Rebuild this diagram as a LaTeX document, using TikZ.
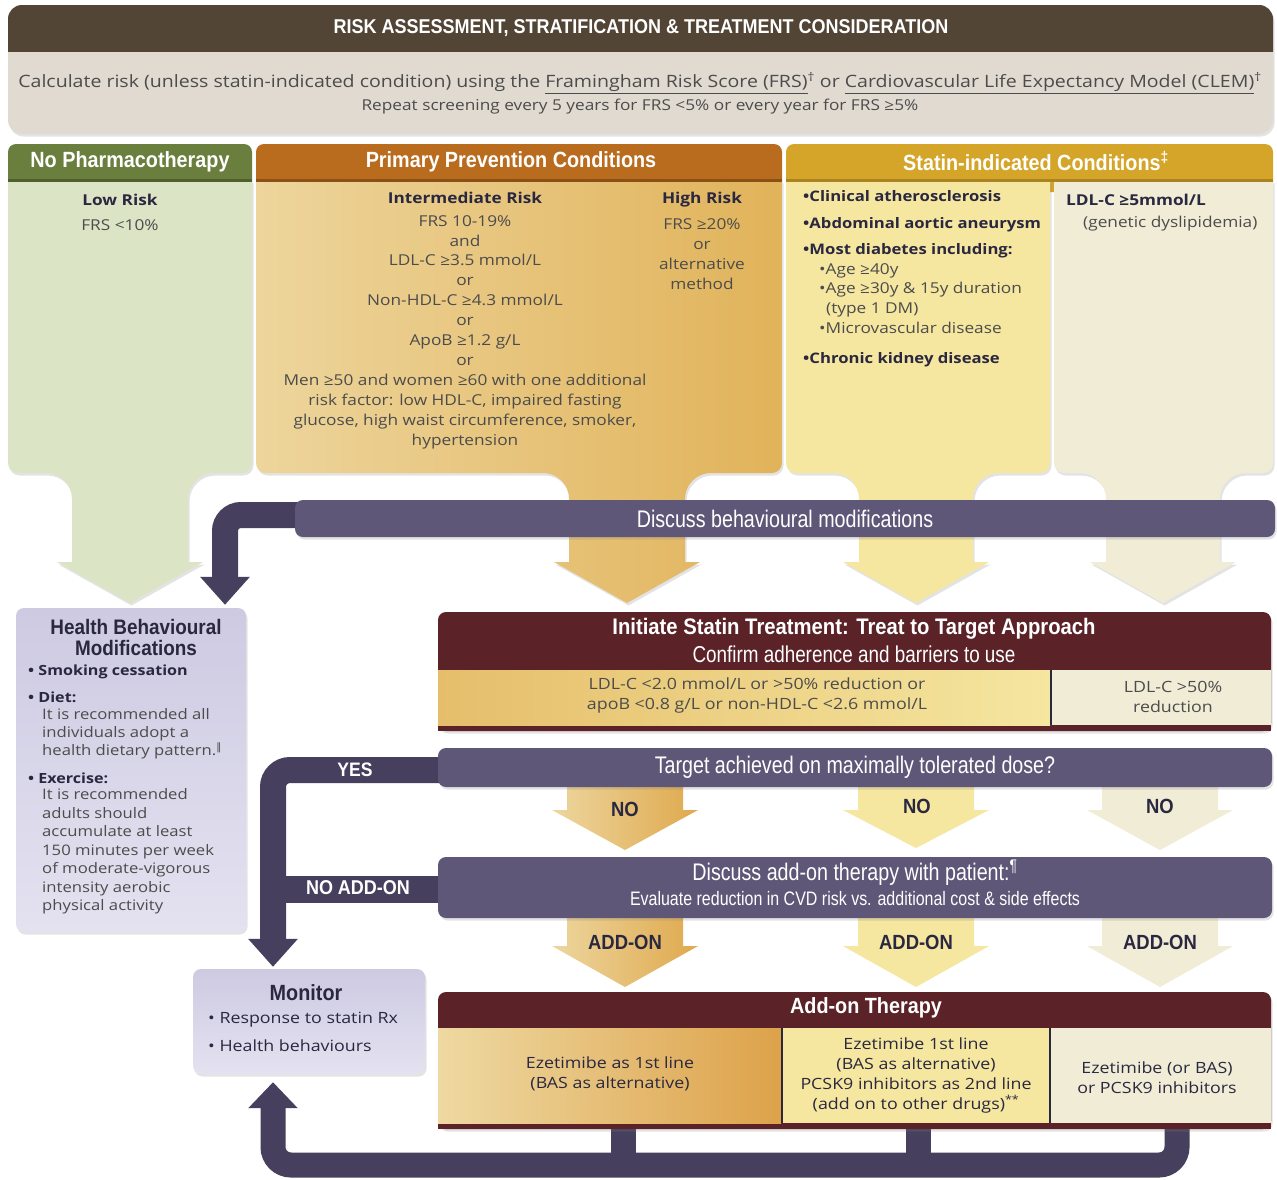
\documentclass[tikz,border=0pt]{standalone}
\usepackage{fontspec}
\setmainfont{Open Sans}[FakeStretch=1.15]
\newfontfamily\condB{Liberation Sans}[FakeStretch=0.9]
\newfontfamily\condR{Liberation Sans}[FakeStretch=0.82]
\newfontfamily\dejavu{DejaVu Sans}
\usetikzlibrary{shadows,arrows.meta}
\pgfdeclarelayer{background}
\pgfsetlayers{background,main}
\definecolor{brownbar}{HTML}{524535}
\definecolor{panel}{HTML}{E0DAD0}
\definecolor{greenH}{HTML}{6A7E3D}
\definecolor{greenB}{HTML}{DCE4C6}
\definecolor{orangeH}{HTML}{B96B1E}
\definecolor{orangeL}{HTML}{EDD59C}
\definecolor{orangeR}{HTML}{E1B35A}
\definecolor{goldH}{HTML}{D5A52A}
\definecolor{yellowB}{HTML}{F5E6A0}
\definecolor{creamB}{HTML}{F1ECD6}
\definecolor{barP}{HTML}{5E5778}
\definecolor{connP}{HTML}{463F5E}
\definecolor{maroon}{HTML}{5B2228}
\definecolor{lavT}{HTML}{CDCAE2}
\definecolor{lavB}{HTML}{E4E2F0}
\definecolor{navy}{HTML}{2A2840}
\definecolor{txt}{HTML}{4C4C4C}
\definecolor{noL}{HTML}{EDD69E}
\definecolor{noR}{HTML}{DFA94E}
\definecolor{cellL}{HTML}{E5BE6B}
\definecolor{aoL}{HTML}{EED9A2}
\definecolor{aoR}{HTML}{DDA24A}
% column body with arrow: #1 style, #2 L, #3 R, #4 top, #5 bottom, #6 cx, #7 shaft half, #8 head half, #9 head top
\newcommand\colshape[9]{%
\path[#1] (#2,#4) -- (#2,#5-10) .. controls (#2,#5-4.5) and (#2+4.5,#5) .. (#2+10,#5)
 -- (#6-#7-26,#5) .. controls (#6-#7-11.6,#5) and (#6-#7,#5+11.6) .. (#6-#7,#5+26)
 -- (#6-#7,#9) -- (#6-#8,#9) -- (#6,#9+41) -- (#6+#8,#9) -- (#6+#7,#9)
 -- (#6+#7,#5+26) .. controls (#6+#7,#5+11.6) and (#6+#7+11.6,#5) .. (#6+#7+26,#5)
 -- (#3-10,#5) .. controls (#3-4.5,#5) and (#3,#5-4.5) .. (#3,#5-10) -- (#3,#4) -- cycle;}
% simple down arrow: #1 style, #2 cx, #3 top, #4 head top, #5 tip
\newcommand\darrow[5]{%
\path[#1] (#2-58,#3) -- (#2+58,#3) -- (#2+58,#4) -- (#2+73,#4) -- (#2,#5) -- (#2-73,#4) -- (#2-58,#4) -- cycle;}
\begin{document}
\begin{tikzpicture}[x=1pt,y=-1pt,
  every node/.style={inner sep=0pt},
  txtbody/.style={font=\fontsize{15}{19.9}\selectfont, text=txt, align=center},
  txtbold/.style={font=\fontsize{15}{20}\selectfont\bfseries, text=navy},
  hdrtext/.style={font=\condB\bfseries\fontsize{22}{24}\selectfont, text=white},
  bartext/.style={font=\condR\fontsize{24}{26}\selectfont, text=white},
  arrtext/.style={font=\condB\bfseries\fontsize{20.5}{22}\selectfont, text=navy},
  conn/.style={draw=connP, line width=26pt},
  conntip/.style={-{Triangle[width=48pt,length=28pt]}},
  softshadow/.style={drop shadow={shadow xshift=1.5pt,shadow yshift=-2.5pt,opacity=0.22}},
  lavbox/.style={rounded corners=8pt, top color=lavT, bottom color=lavB, softshadow},
  barbox/.style={fill=barP, rounded corners=8pt, softshadow},
  maroonbox/.style={fill=maroon, rounded corners=8pt, softshadow}]
\begin{pgfonlayer}{background}
\fill[white] (0,0) rectangle (1277,1179);
\end{pgfonlayer}
\useasboundingbox (0,0) rectangle (1277,1179);

% ---------- top panel
\fill[panel, rounded corners=14pt, softshadow] (8,5) rectangle (1273,134);
\fill[brownbar, rounded corners=14pt] (8,5) rectangle (1273,66);
\fill[panel] (8,52) rectangle (1273,70);
\node[hdrtext, font=\condB\bfseries\fontsize{20}{22}\selectfont] (title) at (641,28) {RISK ASSESSMENT, STRATIFICATION \& TREATMENT CONSIDERATION};
\node[txtbody, font=\fontsize{17}{20}\selectfont] (calc) at (640,83) {Calculate risk (unless statin-indicated condition) using the \underline{Framingham Risk Score (FRS)}\textsuperscript{†} or \underline{Cardiovascular Life Expectancy Model (CLEM)}\textsuperscript{†}};
\node[txtbody] (repeat) at (640,107) {Repeat screening every 5 years for FRS <5\% or every year for FRS ≥5\%};

% ---------- columns
\fill[greenH, rounded corners=8pt] (8,144) rectangle (252,192);
\fill[orangeH, rounded corners=8pt] (256,144) rectangle (782,192);
\fill[goldH, rounded corners=8pt] (786,144) rectangle (1273,192);
\colshape{fill=greenB, softshadow}{8}{252}{181}{473}{130}{58}{73}{562}
\colshape{left color=orangeL, right color=orangeR, softshadow}{256}{782}{181}{473}{627}{58}{73}{562}
\colshape{fill=yellowB, softshadow}{786}{1050}{181}{473}{916}{57}{73}{562}
\colshape{fill=creamB, softshadow}{1054}{1273}{181}{473}{1163}{57}{73}{562}
\fill[greenH!75!black] (8,179) rectangle (252,182);
\fill[orangeH!75!black] (256,179) rectangle (782,182);
\fill[goldH!80!black] (786,179) rectangle (1273,182);
\node[hdrtext] (hnp) at (130,162) {No Pharmacotherapy};
\node[hdrtext] (hpp) at (511,162) {Primary Prevention Conditions};
\node[hdrtext] (hsi) at (1036,161) {Statin-indicated Conditions\textsuperscript{‡}};

\node[txtbold] (lowrisk) at (120,200) {Low Risk};
\node[txtbody] (lowfrs) at (120,225) {FRS <10\%};

\node[txtbold] (intrisk) at (465,198) {Intermediate Risk};
\node[txtbody] (intblock) at (465,332) {FRS 10-19\%\\and\\LDL-C ≥3.5 mmol/L\\or\\Non-HDL-C ≥4.3 mmol/L\\or\\ApoB ≥1.2 g/L\\or\\Men ≥50 and women ≥60 with one additional\\risk factor: low HDL-C, impaired fasting\\glucose, high waist circumference, smoker,\\hypertension};
\node[txtbold] (highrisk) at (702,200) {High Risk};
\node[txtbody] (highblock) at (702,254) {FRS ≥20\%\\or\\alternative\\method};

\node[txtbold, align=left, anchor=west, font=\fontsize{14.5}{26.5}\selectfont\bfseries] (sib1) at (803,224.5) {•Clinical atherosclerosis\\•Abdominal aortic aneurysm\\•Most diabetes including:};
\node[txtbody, align=left, anchor=west] (sib2) at (819,298.5) {•Age ≥40y\\•Age ≥30y \& 15y duration\\\hspace*{7pt}(type 1 DM)\\•Microvascular disease};
\node[txtbold, anchor=west, font=\fontsize{14.5}{20}\selectfont\bfseries] (sib3) at (803,360) {•Chronic kidney disease};
\node[txtbold, anchor=west] (ldl5) at (1066,200) {LDL-C ≥5mmol/L};
\node[txtbody, anchor=west] (gen) at (1083,224) {(genetic dyslipidemia)};

% ---------- discuss behavioural bar
\node[barbox, bartext, minimum width=980pt, minimum height=37pt] (dbm) at (785,518.5) {Discuss behavioural modifications};

% ---------- health behavioural box
\node[lavbox, minimum width=230pt, minimum height=324pt] (hbm) at (131,770) {};
\node[font=\condB\bfseries\fontsize{21}{21}\selectfont, text=navy, align=center] (hbmt) at (136,637) {Health Behavioural\\Modifications};
\node[txtbold, anchor=west, font=\fontsize{14}{18}\selectfont\bfseries] (smk) at (28,672) {• Smoking cessation};
\node[txtbold, anchor=west, font=\fontsize{14}{18}\selectfont\bfseries] (diet) at (28,697) {• Diet:};
\node[txtbody, align=left, anchor=west, font=\fontsize{14.5}{18}\selectfont] (dietb) at (42,734) {It is recommended all\\individuals adopt a\\health dietary pattern.\textsuperscript{\dejavu ‖}};
\node[txtbold, anchor=west, font=\fontsize{14}{18}\selectfont\bfseries] (exer) at (28,778) {• Exercise:};
\node[txtbody, align=left, anchor=west, font=\fontsize{14.5}{18.5}\selectfont] (exerb) at (42,851.5) {It is recommended\\adults should\\accumulate at least\\150 minutes per week\\of moderate-vigorous\\intensity aerobic\\physical activity};

% ---------- initiate statin box
\node[maroonbox, minimum width=833pt, minimum height=119pt] (ist) at (854.5,671.5) {};
\fill[maroon] (438,700) rectangle (1271,731);
\fill[left color=cellL, right color=yellowB] (438,670) rectangle (1050,725);
\fill[creamB] (1052,670) rectangle (1271,725);
\draw[navy, line width=2pt] (1051,670) -- (1051,725);
\node[hdrtext, font=\condB\bfseries\fontsize{22.5}{24}\selectfont] (istt) at (854,629) {Initiate Statin Treatment: Treat to Target Approach};
\node[bartext, font=\condR\fontsize{23}{24}\selectfont] (ists) at (854,654) {Confirm adherence and barriers to use};
\node[txtbody, font=\fontsize{15.5}{20}\selectfont] (istc1) at (757,695) {LDL-C <2.0 mmol/L or >50\% reduction or\\apoB <0.8 g/L or non-HDL-C <2.6 mmol/L};
\node[txtbody, font=\fontsize{15.5}{20}\selectfont] (istc2) at (1173,697) {LDL-C >50\%\\reduction};

% ---------- NO arrows
\darrow{left color=noL, right color=noR}{625}{780}{810}{850}
\darrow{fill=yellowB}{916}{780}{810}{848}
\darrow{fill=creamB}{1160}{780}{810}{850}
% ---------- ADD-ON arrows
\darrow{left color=noL, right color=noR}{625}{910}{946}{987}
\darrow{fill=yellowB}{916}{910}{946}{987}
\darrow{fill=creamB}{1160}{910}{946}{987}

% ---------- target bar
\node[barbox, bartext, minimum width=834pt, minimum height=39pt] (tgt) at (855,767.5) {Target achieved on maximally tolerated dose?};
\node[arrtext] (no1) at (625,809) {NO};
\node[arrtext] (no2) at (917,806) {NO};
\node[arrtext] (no3) at (1160,806) {NO};

% ---------- discuss add-on bar
\node[barbox, minimum width=834pt, minimum height=61pt] (dao) at (855,887.5) {};
\node[bartext] (daot) at (855,873) {Discuss add-on therapy with patient:\textsuperscript{¶}};
\node[bartext, font=\condR\fontsize{19.5}{21}\selectfont] (daos) at (855,899) {Evaluate reduction in CVD risk vs. additional cost \& side effects};
\node[arrtext] (ad1) at (625,942) {ADD-ON};
\node[arrtext] (ad2) at (916,942) {ADD-ON};
\node[arrtext] (ad3) at (1160,942) {ADD-ON};

% ---------- monitor box
\node[lavbox, minimum width=232pt, minimum height=105pt] (mon) at (309,1021.5) {};
\node[font=\condB\bfseries\fontsize{22}{22}\selectfont, text=navy] (mont) at (306,993) {Monitor};
\node[anchor=west, font=\fontsize{15.5}{18}\selectfont, text=navy] (mon1) at (208,1020) {• Response to statin Rx};
\node[anchor=west, font=\fontsize{15.5}{18}\selectfont, text=navy] (mon2) at (208,1046) {• Health behaviours};

% ---------- add-on therapy box
\node[maroonbox, minimum width=833pt, minimum height=137pt] (ao) at (854.5,1060.5) {};
\fill[maroon] (438,1080) rectangle (1271,1129);
\fill[left color=aoL, right color=aoR] (438,1028) rectangle (781,1123);
\fill[yellowB] (783,1028) rectangle (1049,1123);
\fill[creamB] (1051,1028) rectangle (1271,1123);
\draw[navy, line width=2pt] (782,1028) -- (782,1123);
\draw[navy, line width=2pt] (1050,1028) -- (1050,1123);
\node[hdrtext] (aot) at (866,1008) {Add-on Therapy};
\node[txtbody, text=navy, font=\fontsize{15.5}{20}\selectfont] (aoc1) at (610,1074) {Ezetimibe as 1st line\\(BAS as alternative)};
\node[txtbody, text=navy, font=\fontsize{15.5}{20}\selectfont] (aoc2) at (916,1075) {Ezetimibe 1st line\\(BAS as alternative)\\PCSK9 inhibitors as 2nd line\\(add on to other drugs)\textsuperscript{**}};
\node[txtbody, text=navy, font=\fontsize{15.5}{20}\selectfont] (aoc3) at (1157,1078) {Ezetimibe (or BAS)\\or PCSK9 inhibitors};

% ---------- connectors
\coordinate (c1) at (225,0);
\coordinate (c2) at (273,0);
\coordinate (c3) at (1177,0);
\coordinate (s1) at (623,0);
\coordinate (s2) at (918,0);
\coordinate (cbot) at (273,1165);
\coordinate (dbmW) at ([xshift=10pt,yshift=3.5pt]dbm.west);
\coordinate (hbmN) at ([yshift=3pt]hbm.north);
\coordinate (tgtW) at ([xshift=10pt,yshift=-2.5pt]tgt.west);
\coordinate (monN) at ([yshift=2pt]mon.north);
\coordinate (daoW) at ([xshift=10pt,yshift=-2pt]dao.west);
\coordinate (aoB) at ([yshift=5pt]ao.south);
\coordinate (monS) at ([yshift=-8pt]mon.south);
\begin{pgfonlayer}{background}
\draw[conn, conntip, rounded corners=16pt] (dbmW) -| (hbmN -| c1);
\draw[conn, conntip, rounded corners=17pt] (tgtW) -| (monN -| c2);
\draw[conn, line width=27pt] (daoW) -- (daoW -| c2);
\draw[conn, line width=25pt, -{Triangle[width=48pt,length=26pt]}, rounded corners=18pt] (aoB -| c3) |- (cbot) -- (monS -| c2);
\draw[conn, line width=25pt] (aoB -| s1) -- (s1 |- cbot);
\draw[conn, line width=25pt] (aoB -| s2) -- (s2 |- cbot);
\end{pgfonlayer}
\node[font=\condB\bfseries\fontsize{19.5}{22}\selectfont, text=white] (yes) at (355,770) {YES};
\node[font=\condB\bfseries\fontsize{20}{22}\selectfont, text=white] (noadd) at (358,888) {NO ADD-ON};
\end{tikzpicture}
\end{document}
